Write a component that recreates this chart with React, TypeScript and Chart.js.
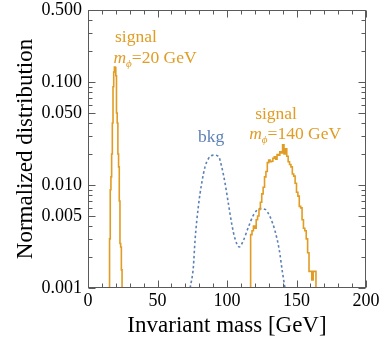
import React, { useEffect, useRef } from "react";
import { Chart, registerables } from "chart.js";

Chart.register(...registerables);

// ---- data ----
const sig20Start = 15.5;
const sig20BinWidth = 0.5;
const sig20Values = [
  0.0025, 0.003, 0.009, 0.012, 0.02, 0.04, 0.09, 0.125, 0.14, 0.138, 0.115,
  0.05, 0.04, 0.02, 0.015, 0.007, 0.0027, 0.0025, 0.0015,
];

const sig140Start = 117;
const sig140BinWidth = 1;
const sig140Values = [
  0.0027, 0.0033, 0.0036, 0.004, 0.0038, 0.0046, 0.005, 0.0058, 0.0068, 0.0082,
  0.0095, 0.012, 0.0135, 0.0165, 0.0175, 0.0168, 0.017, 0.0182, 0.0188, 0.0178,
  0.0198, 0.0195, 0.021, 0.0205, 0.0245, 0.02, 0.0225, 0.019, 0.0168, 0.0158,
  0.015, 0.0128, 0.0122, 0.0104, 0.0085, 0.0078, 0.0062, 0.006, 0.0046, 0.0038,
  0.0036, 0.003, 0.0022, 0.00145, 0.00145, 0.0012, 0.00145, 0.00145,
];

const bkgMass = [
  73.5, 75.8, 77, 79.4, 81.8, 84.2, 86.6, 90.2, 93.8, 96.2, 98.6, 101, 103.4,
  105.8, 108.9, 111.8, 115.4, 119, 123.8, 127.4, 131, 134.5, 137.7, 139.8, 141.7,
];
const bkgValues = [
  0.001, 0.0016, 0.0029, 0.0062, 0.0104, 0.015, 0.018, 0.0195, 0.019, 0.015,
  0.0104, 0.0066, 0.0042, 0.003, 0.0025, 0.0029, 0.0039, 0.0051, 0.0059, 0.0058,
  0.0049, 0.0036, 0.0023, 0.00145, 0.001,
];

const xTicks = [0, 50, 100, 150, 200];
const yTicks = [0.001, 0.005, 0.01, 0.05, 0.1, 0.5];

const ORANGE = "#E19C24";
const BLUE = "#5E81B5";
const FONT = '"Liberation Serif", "Times New Roman", serif';

function histPoints(start: number, w: number, vals: number[]) {
  const pts: { x: number; y: number }[] = [{ x: start, y: 1e-5 }];
  vals.forEach((v, i) => pts.push({ x: start + i * w, y: v }));
  pts.push({ x: start + vals.length * w, y: 1e-5 });
  return pts;
}

const frameAndLabels = {
  id: "frameAndLabels",
  afterDraw(chart: any) {
    const { ctx, chartArea } = chart;
    const { left, right, top, bottom } = chartArea;
    const xs = chart.scales.x;
    const ys = chart.scales.y;
    ctx.save();
    ctx.strokeStyle = "#5a5a5a";
    ctx.lineWidth = 1;
    const L = Math.round(left) + 0.5;
    const R = Math.round(right) - 0.5;
    const T = Math.round(top) + 0.5;
    const B = Math.round(bottom) - 0.5;
    ctx.strokeRect(L, T, R - L, B - T);
    ctx.beginPath();
    for (let v = 0; v <= 200; v += 10) {
      const px = Math.round(xs.getPixelForValue(v)) + 0.5;
      const len = v % 50 === 0 ? 7 : 4;
      ctx.moveTo(px, B);
      ctx.lineTo(px, B - len);
      ctx.moveTo(px, T);
      ctx.lineTo(px, T + len);
    }
    for (let d = -3; d <= -1; d++) {
      for (let m = 1; m <= 9; m++) {
        const val = m * Math.pow(10, d);
        if (val > 0.5 + 1e-9) break;
        const py = Math.round(ys.getPixelForValue(val)) + 0.5;
        const isMajor = yTicks.some((t) => Math.abs(t - val) / t < 1e-6);
        const len = isMajor ? 7 : 4;
        ctx.moveTo(L, py);
        ctx.lineTo(L + len, py);
        ctx.moveTo(R, py);
        ctx.lineTo(R - len, py);
      }
    }
    ctx.stroke();

    // annotations
    const drawSignalMass = (cx: number, cy: number, mass: string, color: string) => {
      const main = `17.5px ${FONT}`;
      const ital = `italic 17.5px ${FONT}`;
      const sub = `italic 11px ${FONT}`;
      ctx.font = ital;
      const wm = ctx.measureText("m").width;
      ctx.font = sub;
      const wp = ctx.measureText("\u03d5").width;
      ctx.font = main;
      const rest = `=${mass} GeV`;
      const wr = ctx.measureText(rest).width;
      let x0 = cx - (wm + wp + wr) / 2;
      ctx.fillStyle = color;
      ctx.textBaseline = "alphabetic";
      ctx.textAlign = "left";
      ctx.font = ital;
      ctx.fillText("m", x0, cy);
      x0 += wm;
      ctx.font = sub;
      ctx.fillText("\u03d5", x0, cy + 4);
      x0 += wp;
      ctx.font = main;
      ctx.fillText(rest, x0, cy);
    };
    const textAt = (t: string, vx: number, vy: number, color: string) => {
      ctx.font = `17.5px ${FONT}`;
      ctx.fillStyle = color;
      ctx.textAlign = "center";
      ctx.textBaseline = "alphabetic";
      ctx.fillText(t, xs.getPixelForValue(vx), ys.getPixelForValue(vy));
    };
    textAt("signal", 34.5, 0.245, ORANGE);
    drawSignalMass(xs.getPixelForValue(48.2), ys.getPixelForValue(0.153), "20", ORANGE);
    textAt("bkg", 88.5, 0.0261, BLUE);
    textAt("signal", 135.3, 0.0437, ORANGE);
    drawSignalMass(xs.getPixelForValue(149), ys.getPixelForValue(0.028), "140", ORANGE);
    ctx.restore();
  },
};

export default function App() {
  const ref = useRef<HTMLCanvasElement | null>(null);
  useEffect(() => {
    if (!ref.current) return;
    const chart = new Chart(ref.current, {
      type: "line",
      data: {
        datasets: [
          {
            label: "signal 20",
            data: histPoints(sig20Start, sig20BinWidth, sig20Values),
            stepped: "after",
            borderColor: ORANGE,
            borderWidth: 1.6,
            pointRadius: 0,
            fill: false,
          },
          {
            label: "signal 140",
            data: histPoints(sig140Start, sig140BinWidth, sig140Values),
            stepped: "after",
            borderColor: ORANGE,
            borderWidth: 1.6,
            pointRadius: 0,
            fill: false,
          },
          {
            label: "bkg",
            data: bkgMass.map((m, i) => ({ x: m, y: bkgValues[i] })),
            borderColor: BLUE,
            borderWidth: 1.6,
            borderDash: [2.5, 2.5],
            cubicInterpolationMode: "monotone",
            pointRadius: 0,
            fill: false,
          },
        ],
      },
      options: {
        animation: false,
        responsive: false,
        devicePixelRatio: 1,
        layout: { padding: { left: 0, top: 10, right: 20, bottom: 0 } },
        plugins: { legend: { display: false }, tooltip: { enabled: false } },
        scales: {
          x: {
            type: "linear",
            min: 0,
            max: 200,
            afterBuildTicks: (s: any) => {
              s.ticks = xTicks.map((v) => ({ value: v }));
            },
            afterFit: (s: any) => {
              s.height = 60;
              s.paddingLeft = 0;
              s.paddingRight = 0;
            },
            ticks: {
              font: { family: FONT, size: 18 },
              color: "#000",
              padding: 2,
              maxRotation: 0,
              autoSkip: false,
            },
            grid: { display: false, drawTicks: false },
            border: { display: false },
            title: {
              display: true,
              text: "Invariant mass [GeV]",
              font: { family: FONT, size: 23 },
              color: "#000",
              padding: { top: 0, bottom: 8 },
            },
          },
          y: {
            type: "logarithmic",
            min: 0.001,
            max: 0.5,
            afterBuildTicks: (s: any) => {
              s.ticks = yTicks.map((v) => ({ value: v }));
            },
            afterFit: (s: any) => {
              s.width = 88;
              s.paddingTop = 0;
              s.paddingBottom = 0;
            },
            ticks: {
              font: { family: FONT, size: 18 },
              color: "#000",
              padding: 6,
              autoSkip: false,
              callback: (v: any) => Number(v).toFixed(3),
            },
            grid: { display: false, drawTicks: false },
            border: { display: false },
            title: {
              display: true,
              text: "Normalized distribution",
              font: { family: FONT, size: 23 },
              color: "#000",
              padding: { top: 12, bottom: 0 },
            },
          },
        },
      },
      plugins: [frameAndLabels],
    } as any);
    return () => chart.destroy();
  }, []);
  return (
    <div style={{ position: "fixed", left: 0, top: 0, width: 386, height: 348, background: "#fff" }}>
      <canvas ref={ref} width={386} height={348} style={{ width: 386, height: 348, display: "block" }} />
    </div>
  );
}
